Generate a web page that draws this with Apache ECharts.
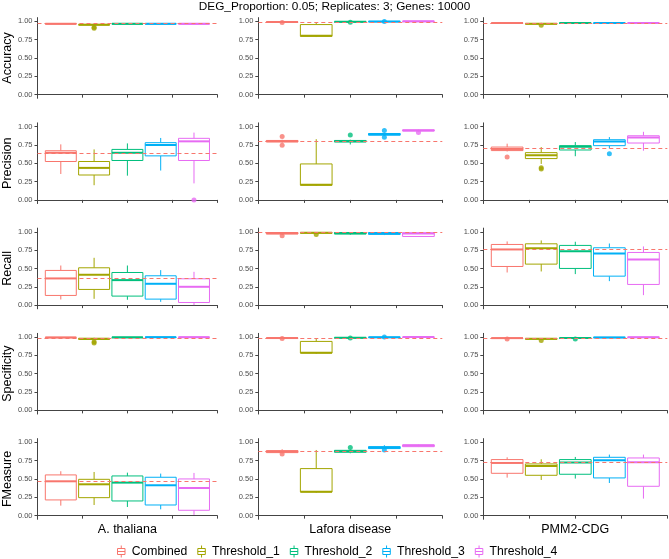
<!DOCTYPE html>
<html><head><meta charset="utf-8">
<script src="https://cdn.jsdelivr.net/npm/echarts@6/dist/echarts.min.js"></script>
<style>html,body{margin:0;padding:0;background:#fff}#c{width:669px;height:559px}</style>
</head><body><div id="c"></div>
<script>
// ---------- data ----------
const groups = ['Combined', 'Threshold_1', 'Threshold_2', 'Threshold_3', 'Threshold_4'];
const groupColors = ['#F8766D', '#A3A500', '#00BF7D', '#00B0F6', '#E76BF3'];
const datasets = ['A. thaliana', 'Lafora disease', 'PMM2-CDG'];
const metrics = ['Accuracy', 'Precision', 'Recall', 'Specificity', 'FMeasure'];
const yTicks = [0, 0.25, 0.5, 0.75, 1];

// each box: [lower whisker, Q1, median, Q3, upper whisker]
const accuracy_thaliana = [[0.962,0.964,0.966,0.968,0.970],[0.935,0.948,0.953,0.957,0.962],[0.962,0.964,0.966,0.968,0.970],[0.962,0.964,0.966,0.968,0.970],[0.962,0.964,0.966,0.968,0.970]];
const accuracy_lafora   = [[0.985,0.987,0.990,0.992,0.994],[0.785,0.795,0.802,0.955,0.982],[0.988,0.990,0.992,0.994,0.996],[0.994,0.996,0.997,0.998,0.999],[0.997,0.998,0.999,1.000,1.000]];
const accuracy_pmm2     = [[0.972,0.974,0.976,0.978,0.980],[0.958,0.962,0.965,0.968,0.972],[0.972,0.974,0.976,0.978,0.980],[0.972,0.974,0.976,0.978,0.980],[0.972,0.974,0.976,0.978,0.980]];
const precision_thaliana = [[0.353,0.523,0.642,0.670,0.757],[0.200,0.339,0.436,0.523,0.688],[0.330,0.537,0.642,0.688,0.770],[0.400,0.600,0.748,0.780,0.844],[0.225,0.537,0.798,0.839,0.917]];
const precision_lafora   = [[0.780,0.790,0.800,0.810,0.820],[0.190,0.200,0.205,0.490,0.827],[0.755,0.790,0.800,0.810,0.820],[0.870,0.882,0.895,0.905,0.915],[0.935,0.940,0.945,0.955,0.960]];
const precision_pmm2     = [[0.660,0.672,0.694,0.720,0.766],[0.490,0.563,0.608,0.644,0.720],[0.595,0.680,0.725,0.739,0.788],[0.700,0.739,0.797,0.820,0.856],[0.670,0.775,0.851,0.874,0.928]];
const recall_thaliana = [[0.077,0.132,0.364,0.473,0.540],[0.086,0.214,0.414,0.509,0.645],[0.073,0.123,0.341,0.445,0.540],[0.045,0.082,0.291,0.400,0.477],[0.000,0.036,0.250,0.359,0.454]];
const recall_lafora   = [[0.960,0.970,0.980,0.990,0.995],[0.975,0.980,0.985,0.990,0.995],[0.960,0.970,0.980,0.990,0.995],[0.955,0.965,0.975,0.990,0.995],[0.930,0.936,0.975,0.986,0.990]];
const recall_pmm2     = [[0.445,0.527,0.759,0.827,0.868],[0.459,0.559,0.777,0.836,0.882],[0.423,0.500,0.736,0.814,0.864],[0.327,0.395,0.705,0.782,0.840],[0.136,0.282,0.623,0.718,0.800]];
const specificity_thaliana = [[0.990,0.992,0.994,0.996,0.998],[0.955,0.968,0.975,0.982,0.990],[0.993,0.995,0.996,0.997,0.998],[0.996,0.997,0.998,0.999,1.000],[0.996,0.997,0.998,0.999,1.000]];
const specificity_lafora   = [[0.982,0.984,0.986,0.988,0.990],[0.773,0.782,0.786,0.940,0.973],[0.986,0.988,0.990,0.992,0.994],[0.994,0.996,0.997,0.998,0.999],[0.997,0.998,0.999,1.000,1.000]];
const specificity_pmm2     = [[0.980,0.983,0.985,0.987,0.989],[0.965,0.970,0.975,0.978,0.982],[0.980,0.983,0.985,0.988,0.990],[0.990,0.993,0.995,0.997,0.999],[0.992,0.995,0.997,0.999,1.000]];
const fmeasure_thaliana = [[0.136,0.214,0.468,0.555,0.605],[0.145,0.245,0.427,0.495,0.595],[0.118,0.200,0.450,0.541,0.586],[0.086,0.145,0.414,0.523,0.573],[0.010,0.073,0.377,0.500,0.582]];
const fmeasure_lafora   = [[0.850,0.859,0.873,0.886,0.905],[0.314,0.323,0.327,0.641,0.895],[0.850,0.864,0.877,0.890,0.900],[0.910,0.914,0.930,0.940,0.960],[0.935,0.940,0.955,0.965,0.970]];
const fmeasure_pmm2     = [[0.518,0.577,0.718,0.764,0.795],[0.486,0.550,0.677,0.705,0.768],[0.505,0.564,0.723,0.764,0.800],[0.445,0.514,0.755,0.795,0.832],[0.232,0.400,0.727,0.786,0.832]];

// outliers per group
const accuracy_thaliana_out = [[], [0.92, 0.905], [], [], []];
const accuracy_lafora_out   = [[0.984], [], [0.985], [0.998], []];
const accuracy_pmm2_out     = [[], [0.946], [], [], []];
const precision_thaliana_out = [[], [], [], [], [0.0]];
const precision_lafora_out   = [[0.864, 0.745], [], [0.886], [0.945, 0.855], [0.92]];
const precision_pmm2_out     = [[0.586], [0.437, 0.42], [], [0.63], []];
const recall_thaliana_out = [[], [], [], [], []];
const recall_lafora_out   = [[0.945], [0.962], [], [], []];
const recall_pmm2_out     = [[], [], [], [], []];
const specificity_thaliana_out = [[], [0.936, 0.918], [], [], []];
const specificity_lafora_out   = [[0.98], [], [0.985], [1.0], []];
const specificity_pmm2_out     = [[0.973], [0.952], [0.973], [], []];
const fmeasure_thaliana_out = [[], [], [], [], []];
const fmeasure_lafora_out   = [[0.84], [], [0.927], [0.895], []];
const fmeasure_pmm2_out     = [[], [], [], [], []];

// dashed reference lines per dataset
const accuracyRef    = [0.966, 0.990, 0.973];
const precisionRef   = [0.638, 0.800, 0.703];
const recallRef      = [0.364, 0.986, 0.759];
const specificityRef = [0.990, 0.990, 0.986];
const fmeasureRef    = [0.473, 0.877, 0.727];

// ---------- assemble ----------
const boxTable = [
  [accuracy_thaliana, accuracy_lafora, accuracy_pmm2],
  [precision_thaliana, precision_lafora, precision_pmm2],
  [recall_thaliana, recall_lafora, recall_pmm2],
  [specificity_thaliana, specificity_lafora, specificity_pmm2],
  [fmeasure_thaliana, fmeasure_lafora, fmeasure_pmm2]
];
const outTable = [
  [accuracy_thaliana_out, accuracy_lafora_out, accuracy_pmm2_out],
  [precision_thaliana_out, precision_lafora_out, precision_pmm2_out],
  [recall_thaliana_out, recall_lafora_out, recall_pmm2_out],
  [specificity_thaliana_out, specificity_lafora_out, specificity_pmm2_out],
  [fmeasure_thaliana_out, fmeasure_lafora_out, fmeasure_pmm2_out]
];
const refTable = [accuracyRef, precisionRef, recallRef, specificityRef, fmeasureRef];

const FONT = '"Liberation Sans", Arial, sans-serif';
const colLeft = [33.3, 258.3, 483.3];
const panelW = 184;
const rowTop0 = 17.6, rowStep = 105.25, panelH = 80.7;
const HALF = 0.465;
const axisColor = '#444';

function renderBox(params, api) {
  const x = api.value(0);
  const lo = api.value(1), q1 = api.value(2), med = api.value(3), q3 = api.value(4), hi = api.value(5);
  const color = api.visual('color');
  const tl = api.coord([x - HALF, q3]);
  const br = api.coord([x + HALF, q1]);
  const pHi = api.coord([x, hi]);
  const pLo = api.coord([x, lo]);
  const pMed = api.coord([x, med]);
  const ls = { stroke: color, lineWidth: 1, fill: null };
  return {
    type: 'group',
    children: [
      { type: 'line', shape: { x1: pHi[0], y1: pHi[1], x2: pHi[0], y2: tl[1] }, style: ls },
      { type: 'line', shape: { x1: pLo[0], y1: br[1], x2: pLo[0], y2: pLo[1] }, style: ls },
      { type: 'rect', shape: { x: tl[0], y: tl[1], width: br[0] - tl[0], height: Math.max(br[1] - tl[1], 0.5) },
        style: { fill: '#fff', stroke: color, lineWidth: 1 } },
      { type: 'line', shape: { x1: tl[0], y1: pMed[1], x2: br[0], y2: pMed[1] }, style: { stroke: color, lineWidth: 2 } }
    ]
  };
}

const grid = [], xAxis = [], yAxis = [], series = [];
metrics.forEach((m, r) => {
  datasets.forEach((d, c) => {
    const p = r * 3 + c;
    grid.push({ left: colLeft[c], top: rowTop0 + r * rowStep, width: panelW, height: panelH });
    xAxis.push({
      gridIndex: p, type: 'value', min: 0.3, max: 5.7,
      axisLine: { show: true, lineStyle: { color: axisColor, width: 1 } },
      axisTick: { show: true, length: 3, customValues: [0.3, 1.65, 3, 4.35, 5.7], lineStyle: { color: axisColor } },
      axisLabel: { show: false },
      splitLine: { show: false },
      name: r === metrics.length - 1 ? d : '',
      nameLocation: 'middle', nameGap: 4,
      nameTextStyle: { fontFamily: FONT, fontSize: 12.5, color: '#000', verticalAlign: 'top' }
    });
    yAxis.push({
      gridIndex: p, type: 'value', min: -0.05, max: 1.05,
      axisLine: { show: true, lineStyle: { color: axisColor, width: 1 } },
      axisTick: { show: true, length: 3, customValues: yTicks, lineStyle: { color: axisColor } },
      axisLabel: { customValues: yTicks, formatter: v => v.toFixed(2), fontFamily: FONT, fontSize: 7.5, color: '#4D4D4D', margin: 5 },
      splitLine: { show: false },
      name: c === 0 ? m : '',
      nameLocation: 'middle', nameGap: 18,
      nameTextStyle: { fontFamily: FONT, fontSize: 12.5, color: '#000' }
    });
    const boxes = boxTable[r][c];
    const outs = outTable[r][c];
    groups.forEach((g, gi) => {
      const s = {
        type: 'custom', name: g, xAxisIndex: p, yAxisIndex: p,
        itemStyle: { color: groupColors[gi], borderColor: groupColors[gi] },
        encode: { x: 0, y: [1, 2, 3, 4, 5] },
        data: [[gi + 1].concat(boxes[gi])],
        renderItem: renderBox, z: 2
      };
      if (gi === 0) {
        s.markLine = {
          silent: true, symbol: 'none', animation: false,
          label: { show: false },
          lineStyle: { color: '#F8766D', type: [4, 3], width: 1 },
          data: [{ yAxis: refTable[r][c] }]
        };
      }
      series.push(s);
      if (outs[gi].length) {
        series.push({
          type: 'scatter', name: g, xAxisIndex: p, yAxisIndex: p,
          symbolSize: 5, itemStyle: { color: groupColors[gi] },
          data: outs[gi].map(v => [gi + 1, v]), z: 3
        });
      }
    });
  });
});

const chart = echarts.init(document.getElementById('c'));
chart.setOption({
  animation: false,
  backgroundColor: '#fff',
  title: {
    text: 'DEG_Proportion: 0.05; Replicates: 3; Genes: 10000',
    left: 'center', top: 1, padding: 0,
    textStyle: { fontFamily: FONT, fontSize: 11.8, fontWeight: 'normal', color: '#000' }
  },
  legend: {
    data: groups.map((g, i) => ({ name: g, itemStyle: { color: '#fff', borderColor: groupColors[i], borderWidth: 1 } })),
    left: 117, top: 545, itemWidth: 11, itemHeight: 12, itemGap: 10, padding: 0,
    icon: 'path://M1,4H11V12H1Z M1,8H11 M6,0V4 M6,12V16',
    textStyle: { fontFamily: FONT, fontSize: 12.2, color: '#000' }
  },
  grid, xAxis, yAxis, series
});
</script>
</body></html>
